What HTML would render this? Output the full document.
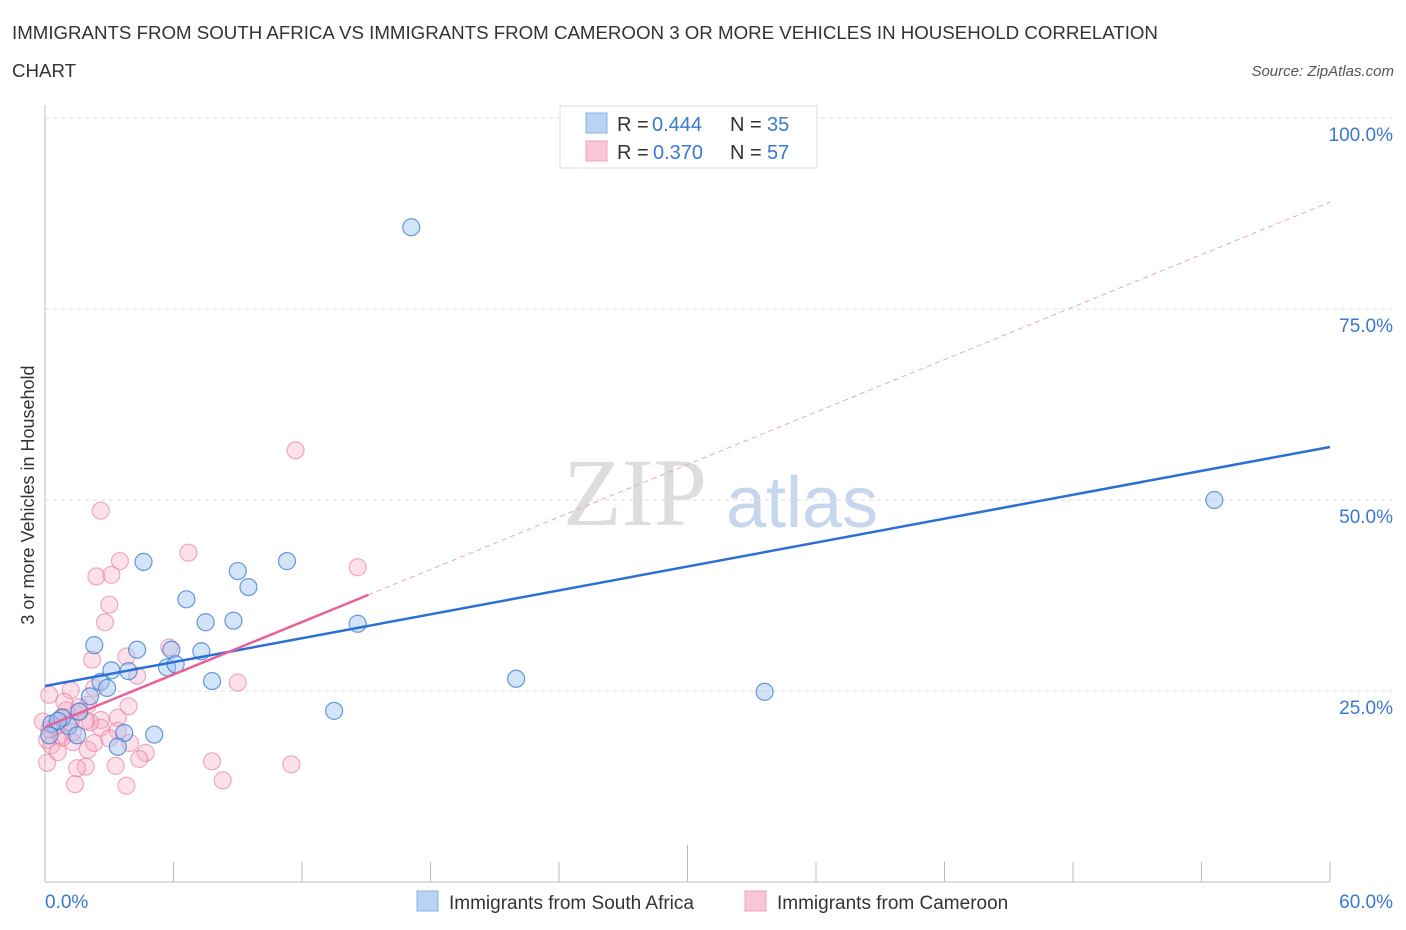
<!DOCTYPE html>
<html><head><meta charset="utf-8"><style>
body{margin:0;background:#fff;font-family:"Liberation Sans",sans-serif;}
svg{display:block}
</style></head><body>
<svg id="chart" width="1406" height="930" xmlns="http://www.w3.org/2000/svg" font-family="Liberation Sans, sans-serif">
<text x="12" y="39" font-size="18.7" fill="#333">IMMIGRANTS FROM SOUTH AFRICA VS IMMIGRANTS FROM CAMEROON 3 OR MORE VEHICLES IN HOUSEHOLD CORRELATION</text>
<text x="12" y="77" font-size="18.7" fill="#333">CHART</text>
<text x="1394" y="76" font-size="15" fill="#555" font-style="italic" text-anchor="end">Source: ZipAtlas.com</text>
<text transform="translate(34,495) rotate(-90)" font-size="18" fill="#333" text-anchor="middle">3 or more Vehicles in Household</text>
<g>
<text x="635" y="525" font-size="96" font-family="Liberation Serif, serif" fill="#ddd" text-anchor="middle">ZIP</text>
<text x="802" y="527" font-size="72" fill="#c5d6ee" text-anchor="middle">atlas</text>
</g>
<g id="grid"></g>
<g id="axes"></g>
<g id="pts"></g>
<g id="lines"></g>
<g>
<rect x="560" y="106" width="257" height="62" fill="#fff" stroke="#ddd"/>
<rect x="586" y="113" width="21" height="20" fill="#b9d3f5" stroke="#8ab3e8"/>
<text x="617" y="131" font-size="20" fill="#333">R =</text>
<text x="652" y="131" font-size="20" fill="#3a78d0">0.444</text>
<text x="730" y="131" font-size="20" fill="#333">N =</text>
<text x="767" y="131" font-size="20" fill="#3a78d0">35</text>
<rect x="586" y="141" width="21" height="20" fill="#f9c6d5" stroke="#eea4bb"/>
<text x="617" y="159" font-size="20" fill="#333">R =</text>
<text x="653" y="159" font-size="20" fill="#3a78d0">0.370</text>
<text x="730" y="159" font-size="20" fill="#333">N =</text>
<text x="767" y="159" font-size="20" fill="#3a78d0">57</text>
</g>
<g>
<rect x="417" y="891" width="21" height="20" fill="#b9d3f5" stroke="#8ab3e8"/>
<text x="449" y="909" font-size="19" fill="#333">Immigrants from South Africa</text>
<rect x="745" y="891" width="21" height="20" fill="#f9c6d5" stroke="#eea4bb"/>
<text x="777" y="909" font-size="19" fill="#333">Immigrants from Cameroon</text>
</g>
</svg>
<script>
const yTicks=[25,50,75,100];
const yTickLabels=["25.0%","50.0%","75.0%","100.0%"];
const blueX=[17.1,54.6,4.6,9.0,11.3,9.5,6.6,7.5,8.8,14.6,2.3,4.3,5.9,7.3,5.7,6.1,3.1,3.9,2.6,2.9,7.8,2.1,22.0,33.6,13.5,0.3,1.1,0.8,5.1,3.7,3.4,1.5,1.6,0.2,0.6];
const blueY=[85.7,50.0,41.9,40.7,42.0,38.6,37.0,34.0,34.2,33.8,31.0,30.4,30.4,30.2,28.1,28.5,27.7,27.6,26.2,25.4,26.3,24.3,26.6,24.9,22.4,20.7,20.4,21.5,19.3,19.5,17.7,19.2,22.3,19.2,21.1];
const pinkX=[11.7,2.6,14.6,6.7,3.5,2.4,3.1,3.0,2.8,5.8,2.2,3.8,4.3,9.0,1.2,2.3,0.2,3.9,2.0,1.6,3.4,2.6,0.8,0.5,0.7,0.1,0.3,1.3,3.4,2.6,1.3,2.1,1.6,1.0,0.8,0.5,0.1,2.0,4.7,4.4,3.3,1.9,1.5,1.4,3.8,7.8,8.3,11.5,1.9,0.6,0.9,3.97,3.0,2.3,0.2,1.2,-0.1];
const pinkY=[56.5,48.6,41.2,43.1,42.0,40.0,40.2,36.3,34.0,30.7,29.1,29.5,27.0,26.1,25.1,25.4,24.5,23.0,23.2,22.3,21.5,21.2,21.6,20.3,19.2,18.6,17.9,18.3,19.8,20.2,19.6,20.9,22.9,22.5,18.9,20.4,15.6,17.3,16.9,16.1,15.2,15.1,14.9,12.8,12.6,15.8,13.3,15.4,21.1,17.0,23.6,18.2,18.8,18.2,20.0,20.9,21.0];
const blueLine=[25.65,0.5215];
const pinkLine=[20.29,1.145];
const pinkSolidEnd=15.1;
const NS="http://www.w3.org/2000/svg";
const X=v=>45+v/60*1285, Y=v=>882-v/100*764;
function mk(tag,attrs,parent){const e=document.createElementNS(NS,tag);for(const k in attrs)e.setAttribute(k,attrs[k]);parent.appendChild(e);return e;}
const grid=document.getElementById('grid'),axes=document.getElementById('axes'),pts=document.getElementById('pts'),lines=document.getElementById('lines');
yTicks.forEach((t,i)=>{
 const l=mk('line',{x1:45,x2:1392,y1:Y(t),y2:Y(t),stroke:'#ddd','stroke-dasharray':'4,4'},grid);
 
 
 const tx=mk('text',{x:1393,y:Y(t)+23,'font-size':19,fill:'#3a78d0','text-anchor':'end'},grid);
 tx.textContent=yTickLabels[i];
 
 
});
const xa=mk('line',{x1:45,x2:1330,y1:882,y2:882,stroke:'#bbb'},axes);


const ya=mk('line',{x1:45,x2:45,y1:105,y2:882,stroke:'#bbb'},axes);


for(let i=0;i<=10;i++){
 const x=45+i*128.5;
 const tk=mk('line',{x1:x,x2:x,y1:882,y2:i==5?845:862,stroke:'#bbb'},axes);
 
 
}
const xl0=mk('text',{x:45,y:908,'font-size':19,fill:'#3a78d0'},axes);xl0.textContent='0.0%';


const xl1=mk('text',{x:1393,y:908,'font-size':19,fill:'#3a78d0','text-anchor':'end'},axes);xl1.textContent='60.0%';


pinkX.forEach((v,i)=>{
 const c=mk('circle',{cx:X(v),cy:Y(pinkY[i]),r:8.5,fill:'rgba(246,170,195,0.35)',stroke:'rgba(232,120,155,0.6)','stroke-width':1.2},pts);
 
 
});
blueX.forEach((v,i)=>{
 const c=mk('circle',{cx:X(v),cy:Y(blueY[i]),r:8.5,fill:'rgba(160,196,240,0.45)',stroke:'rgba(58,120,208,0.75)','stroke-width':1.2},pts);
 
 
});
const pd=mk('line',{x1:X(pinkSolidEnd),y1:Y(pinkLine[0]+pinkLine[1]*pinkSolidEnd),x2:X(60),y2:Y(pinkLine[0]+pinkLine[1]*60),stroke:'#eea4bb','stroke-width':1,'stroke-dasharray':'5,4'},lines);


const bl=mk('line',{x1:X(0),y1:Y(blueLine[0]),x2:X(60),y2:Y(blueLine[0]+blueLine[1]*60),stroke:'#2b6fd6','stroke-width':2.5},lines);


const pl=mk('line',{x1:X(0),y1:Y(pinkLine[0]),x2:X(pinkSolidEnd),y2:Y(pinkLine[0]+pinkLine[1]*pinkSolidEnd),stroke:'#e8609a','stroke-width':2.5},lines);


</script>
</body></html>
